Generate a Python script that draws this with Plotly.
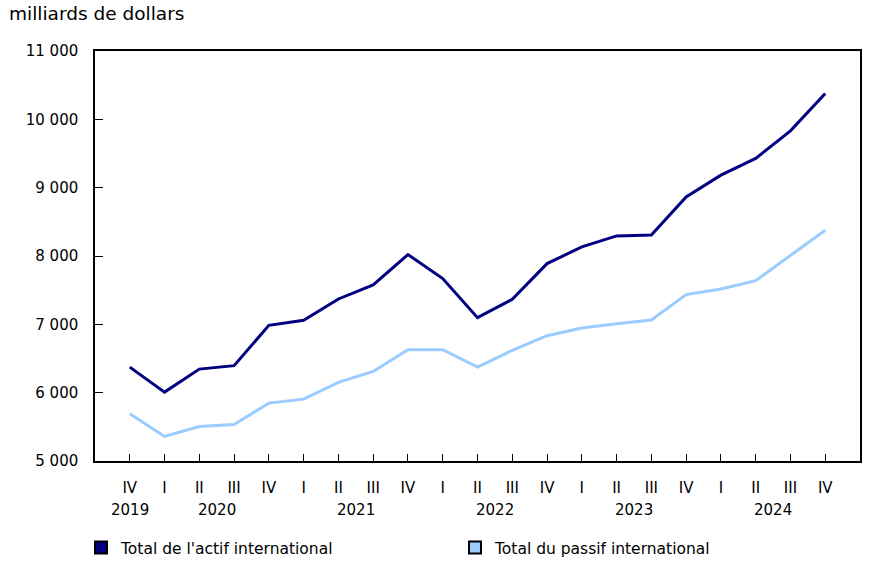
import plotly.graph_objects as go

quarters = ["IV", "I", "II", "III", "IV", "I", "II", "III", "IV", "I", "II", "III",
            "IV", "I", "II", "III", "IV", "I", "II", "III", "IV"]
years = ["2019", "2020", "2021", "2022", "2023", "2024"]
year_centers = [0, 2.5, 6.5, 10.5, 14.5, 18.5]

actif = [6374, 6008, 6345, 6395, 6985, 7059, 7371, 7576, 8021, 7670, 7098, 7366,
         7889, 8133, 8294, 8308, 8865, 9183, 9428, 9832, 10377]
passif = [5692, 5359, 5505, 5535, 5847, 5905, 6150, 6311, 6629, 6629, 6374, 6619,
          6834, 6946, 7010, 7063, 7435, 7517, 7640, 8011, 8377]

series_names = ["Total de l'actif international", "Total du passif international"]
colors = ["#000080", "#99CCFF"]

ytick_vals = [5000, 6000, 7000, 8000, 9000, 10000, 11000]
ytick_text = ["5 000", "6 000", "7 000", "8 000", "9 000", "10 000", "11 000"]

FONT = "DejaVu Sans"
x = list(range(len(quarters)))

fig = go.Figure()
for name, vals, c in zip(series_names, [actif, passif], colors):
    fig.add_trace(go.Scatter(x=x, y=vals, mode="lines", line=dict(color=c, width=3),
                             showlegend=False, name=name))
for name, c in zip(series_names, colors):
    fig.add_trace(go.Scatter(x=[None], y=[None], mode="markers", name=name,
                             marker=dict(symbol="square", size=17, color=c,
                                         line=dict(color="black", width=1))))

for yr, xc in zip(years, year_centers):
    fig.add_annotation(x=xc, y=0, xref="x", yref="paper", text=yr, showarrow=False,
                       yanchor="top", yshift=-38, font=dict(family=FONT, size=15, color="black"))

fig.add_annotation(x=0, y=1, xref="paper", yref="paper", text="milliards de dollars",
                   showarrow=False, xanchor="left", yanchor="top", xshift=-88, yshift=50,
                   font=dict(family=FONT, size=18.5, color="black"))

fig.update_layout(
    width=886, height=567,
    margin=dict(l=95, r=26, t=51, b=106, autoexpand=False),
    plot_bgcolor="white", paper_bgcolor="white",
    font=dict(family=FONT, size=15, color="black"),
    xaxis=dict(range=[-1, 21], tickvals=x, ticktext=quarters, ticks="inside",
               ticklen=7, tickcolor="black", showgrid=False, zeroline=False,
               showline=True, linecolor="black", linewidth=1.5, mirror=True,
               ticklabelstandoff=12, tickfont=dict(family=FONT, size=15)),
    yaxis=dict(range=[5000, 11000], tickvals=ytick_vals, ticktext=ytick_text,
               ticks="inside", ticklen=8, tickcolor="black", showgrid=False,
               zeroline=False, showline=True, linecolor="black", linewidth=1.5,
               mirror=True, ticklabelstandoff=12, tickfont=dict(family=FONT, size=15)),
    legend=dict(orientation="h", x=81 / 886, xref="container", y=19 / 567,
                xanchor="left", yanchor="middle", yref="container",
                entrywidth=337 - 8, entrywidthmode="pixels", bgcolor="rgba(0,0,0,0)",
                font=dict(family=FONT, size=15.5), itemsizing="constant"),
)

fig.write_html("out.html", config={"displayModeBar": False},
               post_script="document.body.style.margin='0';document.body.style.padding='0';")
